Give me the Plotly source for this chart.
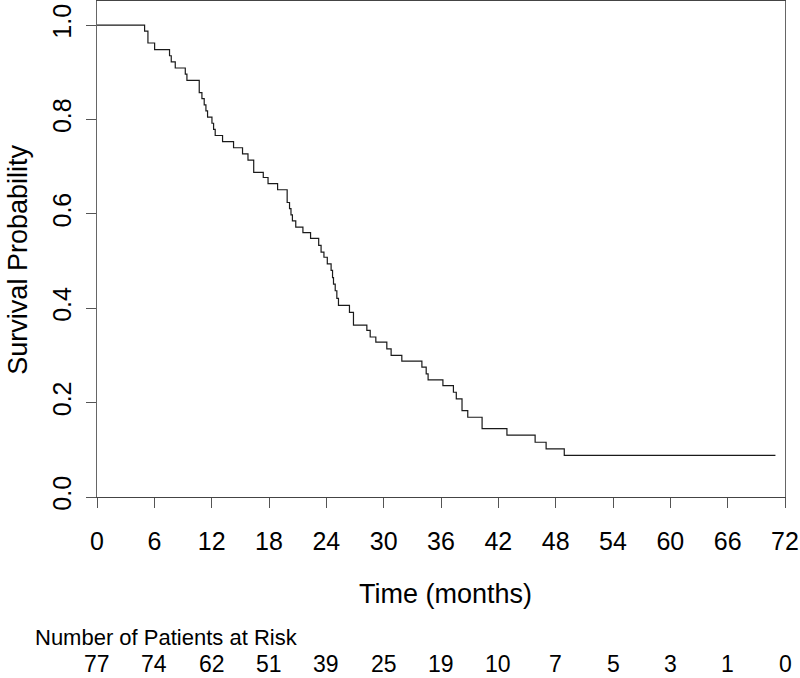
import plotly.graph_objects as go

# Kaplan-Meier estimate
times = [0, 4.98, 5.33, 6.03, 7.59, 7.77, 8.19, 9.24, 9.41, 10.70, 10.98, 11.22,
         11.40, 11.57, 12.03, 12.20, 12.37, 13.14, 14.29, 15.23, 15.8, 16.4, 17.4,
         17.9, 18.9, 19.9, 20.15, 20.3, 20.45, 20.8, 21.55, 22.35, 23.2, 23.45,
         23.75, 24.1, 24.5, 24.65, 24.75, 24.93, 25.1, 25.27, 26.42, 26.84, 28.24,
         28.59, 29.18, 30.33, 30.78, 31.9, 34.0, 34.45, 34.65, 36.2, 37.3, 37.6,
         38.2, 38.8, 40.3, 42.9, 45.85, 47.0, 48.9, 71.0]
surv = [1.0, 0.987, 0.962, 0.948, 0.935, 0.922, 0.909, 0.896, 0.883, 0.857, 0.844,
        0.831, 0.818, 0.805, 0.792, 0.779, 0.766, 0.753, 0.740, 0.727, 0.714, 0.688,
        0.677, 0.664, 0.651, 0.624, 0.611, 0.598, 0.585, 0.572, 0.560, 0.548, 0.533,
        0.519, 0.508, 0.494, 0.480, 0.465, 0.451, 0.437, 0.421, 0.406, 0.391, 0.364,
        0.353, 0.339, 0.328, 0.314, 0.300, 0.288, 0.275, 0.261, 0.248, 0.236, 0.222,
        0.208, 0.183, 0.169, 0.145, 0.131, 0.116, 0.102, 0.088, 0.088]

risk_times = [0, 6, 12, 18, 24, 30, 36, 42, 48, 54, 60, 66, 72]
at_risk = [77, 74, 62, 51, 39, 25, 19, 10, 7, 5, 3, 1, 0]

y_ticks = [0.0, 0.2, 0.4, 0.6, 0.8, 1.0]
y_tick_text = ["0.0", "0.2", "0.4", "0.6", "0.8", "1.0"]

FONT = "Liberation Sans, Arial, sans-serif"

fig = go.Figure()
fig.add_trace(go.Scatter(
    x=times, y=surv, mode="lines", line=dict(shape="hv", color="#1a1a1a", width=1.2),
    hoverinfo="skip", showlegend=False))

ann = []
for t, n in zip(risk_times, at_risk):
    ann.append(dict(x=t, y=-0.3365, xref="x", yref="paper", text=str(n), showarrow=False,
                    xanchor="center", yanchor="middle", borderpad=0,
                    font=dict(size=23, color="#000")))
ann.append(dict(x=-0.092, y=-0.2823, xref="paper", yref="paper", text="Number of Patients at Risk",
                showarrow=False, xanchor="left", yanchor="middle", borderpad=0,
                font=dict(size=22, color="#000")))
ann.append(dict(x=0.507, y=-0.196, xref="paper", yref="paper", text="Time (months)",
                showarrow=False, xanchor="center", yanchor="middle", font=dict(size=27, color="#000")))
ann.append(dict(x=-0.1152, y=0.478, xref="paper", yref="paper", text="Survival Probability",
                showarrow=False, xanchor="center", yanchor="middle", textangle=-90, borderpad=0,
                font=dict(size=27, color="#000")))

fig.update_layout(
    width=800, height=678,
    margin=dict(l=97, r=15, t=1, b=181),
    paper_bgcolor="white", plot_bgcolor="white",
    font=dict(family=FONT, color="#000"),
    annotations=ann,
    xaxis=dict(range=[0, 72], tickvals=risk_times, ticktext=[str(v) for v in risk_times],
               showgrid=False, zeroline=False, showline=True, linecolor="#444", linewidth=1,
               mirror=True, ticks="outside", ticklen=10, tickcolor="#555", tickwidth=1,
               tickfont=dict(size=25, color="#000"), ticklabelstandoff=12, automargin=False),
    yaxis=dict(range=[0, 1.051], tickvals=y_ticks, ticktext=y_tick_text,
               showgrid=False, zeroline=False, showline=True, linecolor="#666", linewidth=1,
               mirror=True, ticks="outside", ticklen=10, tickcolor="#555", tickwidth=1,
               tickangle=-90, tickfont=dict(size=25, color="#000"), ticklabelstandoff=5,
               automargin=False),
)

fig.write_html("out.html", config={"displayModeBar": False},
               post_script="document.body.style.margin='0';document.body.style.overflow='hidden';")
